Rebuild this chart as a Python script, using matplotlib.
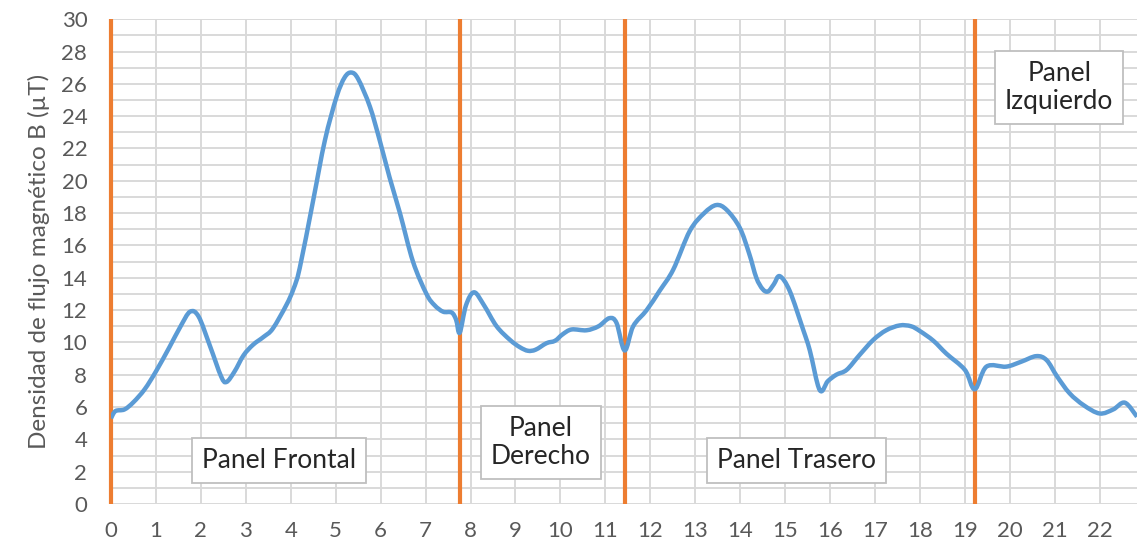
import numpy as np
import matplotlib
matplotlib.use("Agg")
import matplotlib.pyplot as plt
from matplotlib.path import Path
from matplotlib.patches import PathPatch

plt.rcParams['font.family'] = ['Lato', 'DejaVu Sans']

# curve (x in panel units, B in uT)
pos = [0, 0.1, 0.3, 0.5, 0.75, 1.0, 1.3, 1.55, 1.76, 1.95, 2.2, 2.45, 2.57, 2.75,
       2.95, 3.16, 3.4, 3.6, 3.9, 4.06, 4.2, 4.5, 4.76, 5.02, 5.2, 5.35, 5.5, 5.76,
       5.98, 6.2, 6.43, 6.72, 7.02, 7.2, 7.39, 7.58, 7.68, 7.76, 7.9, 8.08, 8.3,
       8.58, 8.88, 9.1, 9.28, 9.45, 9.69, 9.88, 10.05, 10.25, 10.58, 10.85, 11.09,
       11.25, 11.43, 11.62, 11.92, 12.21, 12.51, 12.88, 13.2, 13.47, 13.7, 13.99,
       14.2, 14.36, 14.5, 14.62, 14.75, 14.88, 15.1, 15.4, 15.55, 15.77, 15.95,
       16.14, 16.37, 16.65, 16.96, 17.25, 17.55, 17.8, 18.0, 18.3, 18.59, 19.0,
       19.22, 19.48, 19.92, 20.25, 20.59, 20.82, 21.05, 21.33, 21.65, 22.0, 22.3,
       22.56, 22.83]
flux = [5.3, 5.75, 5.85, 6.3, 7.1, 8.2, 9.7, 11.0, 11.9, 11.6, 9.8, 7.9, 7.55, 8.2,
        9.2, 9.85, 10.35, 10.85, 12.3, 13.3, 14.6, 18.8, 22.5, 25.2, 26.4, 26.7, 26.3,
        24.6, 22.5, 20.2, 18.0, 15.0, 13.0, 12.3, 11.9, 11.85, 11.4, 10.6, 12.3, 13.1,
        12.3, 11.0, 10.15, 9.7, 9.48, 9.55, 9.95, 10.1, 10.5, 10.8, 10.75, 11.0, 11.5,
        11.2, 9.5, 11.0, 12.0, 13.2, 14.5, 16.9, 18.0, 18.5, 18.2, 17.1, 15.5, 14.0,
        13.3, 13.15, 13.6, 14.1, 13.2, 10.8, 9.5, 7.05, 7.6, 8.0, 8.3, 9.2, 10.15,
        10.75, 11.05, 11.0, 10.7, 10.1, 9.3, 8.3, 7.1, 8.5, 8.5, 8.8, 9.15, 8.9, 7.9,
        6.85, 6.1, 5.6, 5.85, 6.27, 5.4]

borders = [0, 7.76, 11.43, 19.22]
panel_names = ['Panel Frontal', 'Panel\nDerecho', 'Panel Trasero', 'Panel\nIzquierdo']
label_x = [3.73, 9.57, 15.25, 21.1]
label_y = [2.69, 3.83, 2.69, 25.8]


def smooth_path(x, y):
    # Excel-style smoothed line: cubic Bezier segments through every point
    p = np.column_stack([x, y]).astype(float)
    pp = np.vstack([p[0], p, p[-1]])
    verts = [p[0]]
    codes = [Path.MOVETO]
    for i in range(1, len(pp) - 2):
        c1 = pp[i] + (pp[i + 1] - pp[i - 1]) / 6
        c2 = pp[i + 1] - (pp[i + 2] - pp[i]) / 6
        verts += [c1, c2, pp[i + 1]]
        codes += [Path.CURVE4] * 3
    return Path(verts, codes)


fig = plt.figure(figsize=(11.37, 5.49), dpi=100)
ax = fig.add_axes([0.0976, 0.082, 0.9024, 0.883])

ax.set_xlim(0, 22.83)
ax.set_ylim(0, 30)
ax.set_xticks(range(0, 23))
ax.set_yticks(range(0, 31, 2))
ax.set_yticks(range(0, 31), minor=True)
ax.grid(True, which='both', color='#d9d9d9', lw=1.4)
ax.set_axisbelow(True)
for s in ax.spines.values():
    s.set_visible(False)
ax.tick_params(which='both', length=0)
ax.tick_params(axis='y', pad=17, labelsize=16, labelcolor='#595959')
ax.tick_params(axis='x', pad=12, labelsize=16, labelcolor='#595959')
ax.set_ylabel('Densidad de flujo magnético B (µT)', fontsize=17.5, color='#595959', labelpad=8)

for b in borders:
    ax.plot([b, b], [0, 30], color='#ed7d31', lw=3.0, solid_capstyle='butt',
            zorder=3, clip_on=False)

ax.add_patch(PathPatch(smooth_path(pos, flux), fc='none', ec='#5b9bd5', lw=3.2,
                       joinstyle='round', capstyle='butt', zorder=4))

for name, tx, ty in zip(panel_names, label_x, label_y):
    ax.text(tx, ty, name, ha='center', va='center', fontsize=19, color='#262626',
            linespacing=1.15, zorder=5,
            bbox=dict(boxstyle='square,pad=0.38', fc='white', ec='#bfbfbf', lw=1.3))

fig.savefig('out.png', dpi=100)
